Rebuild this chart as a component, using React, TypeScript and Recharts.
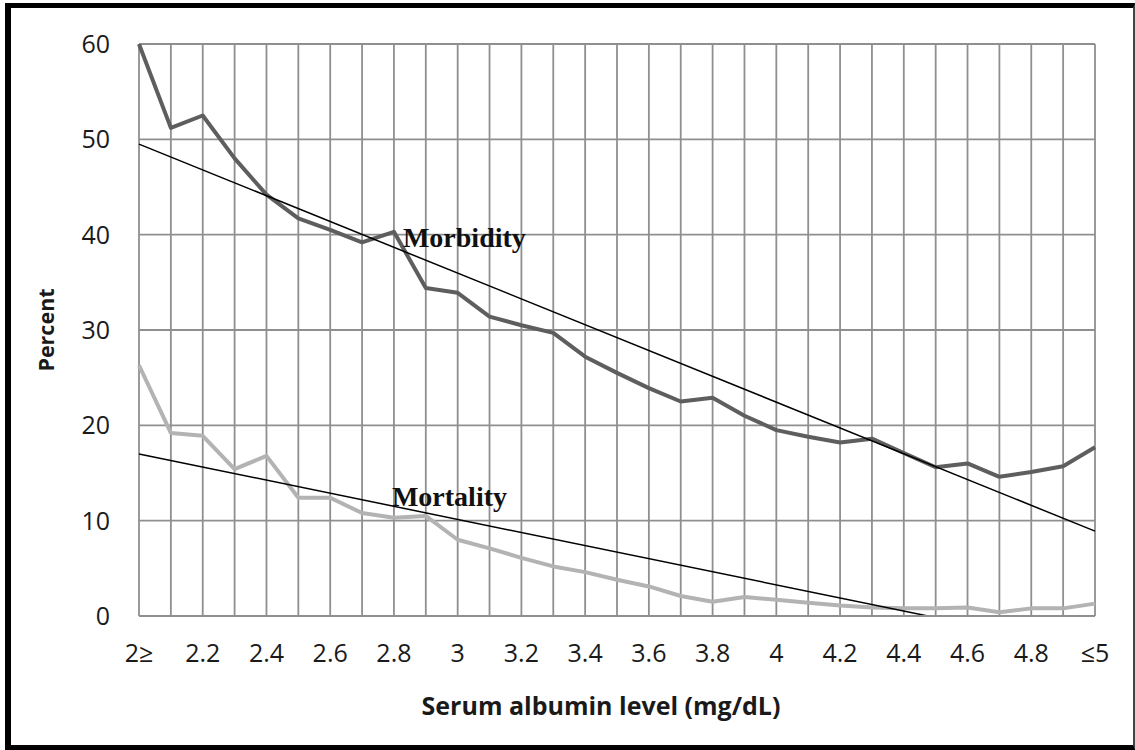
import { CartesianGrid, Label, Line, LineChart, ReferenceDot, XAxis, YAxis } from "recharts";

const categories = [
  "2≥", "2.1", "2.2", "2.3", "2.4", "2.5", "2.6", "2.7", "2.8", "2.9",
  "3", "3.1", "3.2", "3.3", "3.4", "3.5", "3.6", "3.7", "3.8", "3.9",
  "4", "4.1", "4.2", "4.3", "4.4", "4.5", "4.6", "4.7", "4.8", "4.9", "≤5",
];

const morbidity = [
  60, 51.2, 52.5, 48.0, 44.2, 41.7, 40.5, 39.2, 40.3, 34.4,
  33.9, 31.4, 30.5, 29.7, 27.2, 25.5, 23.9, 22.5, 22.9, 21.0,
  19.5, 18.8, 18.2, 18.6, 17.1, 15.6, 16.0, 14.6, 15.1, 15.7, 17.7,
];

const mortality = [
  26.3, 19.2, 18.9, 15.4, 16.8, 12.4, 12.4, 10.8, 10.3, 10.5,
  8.0, 7.1, 6.1, 5.2, 4.6, 3.8, 3.1, 2.1, 1.5, 2.0,
  1.7, 1.4, 1.1, 0.9, 0.8, 0.8, 0.9, 0.4, 0.8, 0.8, 1.3,
];

const morbidityTrend = { first: 49.5, last: 8.9 };
const mortalityTrend = { first: 17.0, last: -3.6 };

const yTicks = [0, 10, 20, 30, 40, 50, 60];

const data = categories.map((cat, i) => ({
  cat,
  morbidity: morbidity[i],
  mortality: mortality[i],
  morbTrend: i === 0 ? morbidityTrend.first : i === categories.length - 1 ? morbidityTrend.last : null,
  mortTrend: i === 0 ? mortalityTrend.first : i === categories.length - 1 ? mortalityTrend.last : null,
}));

const tickFont = { fontFamily: "'Open Sans', sans-serif", fontSize: 25, fill: "#1a1a1a" };
const titleFont = { fontFamily: "'Open Sans', sans-serif", fontWeight: 700, fill: "#1a1a1a" };
const noteFont = { fontFamily: "'Liberation Serif', serif", fontSize: 28, fontWeight: 700, fill: "#111" };

// only every other category gets a label, but every category gets a grid line
function XTick(props: any) {
  const { x, y, payload, index } = props;
  if (index % 2 !== 0) return <g />;
  return (
    <text x={x} y={y} dy="0.71em" textAnchor="middle" {...tickFont}>
      {payload.value}
    </text>
  );
}

export default function App() {
  return (
    <div style={{ position: "absolute", left: 0, top: 0, width: 1135, height: 750, background: "#fff" }}>
      <div
        style={{
          position: "absolute",
          left: 5,
          top: 3,
          width: 1130,
          height: 747,
          boxSizing: "border-box",
          borderLeft: "6px solid #000",
          borderTop: "5px solid #000",
          borderBottom: "5px solid #000",
          borderRight: "2px solid #444",
        }}
      />
      <div style={{ position: "absolute", left: 0, top: 0 }}>
        <LineChart width={1135} height={750} data={data} margin={{ top: 44, right: 40, left: 0, bottom: 0 }}>
          <CartesianGrid stroke="#8f8f8f" strokeWidth={1.8} />
          <XAxis
            dataKey="cat"
            interval={0}
            height={134}
            tick={<XTick />}
            tickLine={false}
            tickSize={0}
            tickMargin={28}
            axisLine={{ stroke: "#8f8f8f", strokeWidth: 1.8 }}
          >
            <Label
              value="Serum albumin level (mg/dL)"
              position="insideBottom"
              offset={35}
              dx={-16}
              style={{ ...titleFont, fontSize: 25 }}
            />
          </XAxis>
          <YAxis
            width={139}
            domain={[0, 60]}
            ticks={yTicks}
            allowDataOverflow
            tick={tickFont}
            tickLine={false}
            tickSize={0}
            tickMargin={29}
            axisLine={false}
          >
            <Label
              value="Percent"
              angle={-90}
              position="insideLeft"
              offset={46}
              textAnchor="middle"
              style={{ ...titleFont, fontSize: 21.5, textAnchor: "middle" }}
            />
          </YAxis>
          <Line
            dataKey="mortality"
            stroke="#b3b3b3"
            strokeWidth={4}
            dot={false}
            strokeLinejoin="round"
            isAnimationActive={false}
          />
          <Line
            dataKey="morbidity"
            stroke="#5e5e5e"
            strokeWidth={4}
            dot={false}
            strokeLinejoin="round"
            isAnimationActive={false}
          />
          <Line
            dataKey="morbTrend"
            stroke="#000"
            strokeWidth={1.5}
            dot={false}
            connectNulls
            isAnimationActive={false}
          />
          <Line
            dataKey="mortTrend"
            stroke="#000"
            strokeWidth={1.5}
            dot={false}
            connectNulls
            isAnimationActive={false}
          />
          <ReferenceDot
            x="2.8"
            y={39.8}
            r={0}
            stroke="none"
            label={{ value: "Morbidity", position: "right", offset: 9, style: noteFont }}
          />
          <ReferenceDot
            x="2.8"
            y={12.6}
            r={0}
            stroke="none"
            label={{ value: "Mortality", position: "right", offset: -2, style: noteFont }}
          />
        </LineChart>
      </div>
    </div>
  );
}
